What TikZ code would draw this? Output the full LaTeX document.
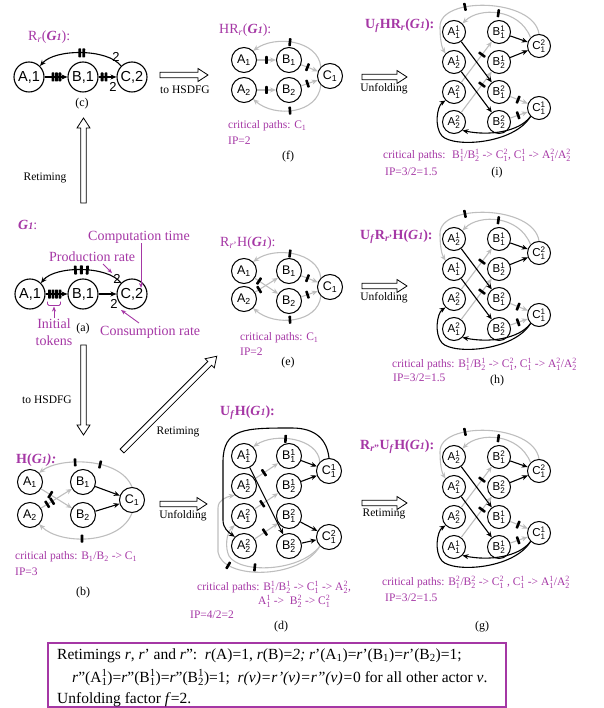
\documentclass[tikz,border=0pt]{standalone}
\usepackage{fontspec}
\setmainfont{Liberation Serif}
\setsansfont{Liberation Sans}
\usetikzlibrary{arrows.meta}

\definecolor{mag}{RGB}{165,55,165}
\definecolor{edgegray}{RGB}{190,190,190}

% letter with stacked subscript and superscript (sans, for graph nodes)
\newcommand\ssb[3]{#1$_{\mathsf{#2}}^{\mathsf{#3}}$}
% letter with stacked subscript and superscript (serif, for running text)
\newcommand\tsb[3]{#1$_{\mathrm{#2}}^{\mathrm{#3}}$}
% the graph name G1
\newcommand\gnm{\textbf{\textit{G{\fontsize{10}{10}\selectfont 1}}}}
% outlined block arrow: start point, angle, length
\newcommand\blockarrow[3]{%
  \begin{scope}[shift={#1},rotate=#2]
    \draw[line width=0.8pt,fill=white]
      (0,2.7) -- (#3-10,2.7) -- (#3-10,6.5) -- (#3,0) -- (#3-10,-6.5)
      -- (#3-10,-2.7) -- (0,-2.7) -- cycle;
  \end{scope}}

\tikzset{
  bignode/.style={circle,draw,line width=1.1pt,minimum size=30pt,inner sep=0pt,
    font=\sffamily\fontsize{14.5}{14.5}\selectfont},
  hnode/.style={circle,draw,line width=1pt,minimum size=25pt,inner sep=0pt,
    font=\sffamily\fontsize{12.5}{12.5}\selectfont},
  unode/.style={circle,draw,line width=1pt,minimum size=23pt,inner sep=0pt,
    font=\sffamily\fontsize{11.5}{11.5}\selectfont},
  blk/.style={draw=black,line width=1.1pt,-{Stealth[length=6pt,width=5pt]}},
  gry/.style={draw=edgegray,line width=1.1pt,-{Stealth[length=6pt,width=5pt]}},
  tok/.style={fill=black,draw=none,rectangle,rounded corners=0.6pt,
    minimum width=2.6pt,minimum height=8pt,inner sep=0pt,sloped},
  bigtok/.style={tok,minimum width=2.8pt,minimum height=9pt},
  ttl/.style={text=mag,anchor=west,inner sep=0pt,font=\fontsize{14}{16}\selectfont},
  crit/.style={text=mag,anchor=west,inner sep=0pt,font=\fontsize{11.5}{13}\selectfont},
  annot/.style={text=mag,inner sep=0pt,font=\fontsize{14}{17}\selectfont},
  annarrow/.style={draw=mag,line width=0.9pt,-{Stealth[length=5pt,width=4pt]}},
  capt/.style={inner sep=0pt,font=\fontsize{12}{14}\selectfont},
  steplabel/.style={inner sep=0pt,font=\fontsize{11.5}{13}\selectfont},
  rt/.style={inner sep=0pt,font=\sffamily\fontsize{13}{13}\selectfont},
  boxtext/.style={anchor=base west,inner sep=0pt,font=\fontsize{15.5}{18}\selectfont},
  % unfolded graph: four A copies, four B copies, two C copies
  pics/ufpanel/.style n args={8}{code={
    \node[unode] (a1) at (0,0) {#1};
    \node[unode] (a2) at (0,30) {#2};
    \node[unode] (a3) at (0,60) {#3};
    \node[unode] (a4) at (0,90) {#4};
    \node[unode] (b1) at (45,0) {#5};
    \node[unode] (b2) at (45,30) {#6};
    \node[unode] (b3) at (45,60) {#7};
    \node[unode] (b4) at (45,90) {#8};
    \node[unode] (ct) at (85,14) {\ssb{C}{1}{2}};
    \node[unode] (cb) at (85,76) {\ssb{C}{1}{1}};
    \draw[gry] (a3) -- node[tok,pos=0.68]{} (b1);
    \draw[gry] (a4) -- node[tok,pos=0.68]{} (b2);
    \draw[gry] (b3) -- node[tok,pos=0.45]{} (cb);
    \draw[gry] (b4) -- node[tok,pos=0.45]{} (cb);
    \draw[gry] (ct.north west) .. controls (65,-24) and (25,-25) .. (a1.north east) node[tok,pos=0.5]{};
    \draw[gry] (ct.north) .. controls (80,-34) and (-15,-36) .. (-14,-5) node[tok,pos=0.66]{}
      .. controls (-14,8) and (-12,16) .. (a2.north west);
    \draw[blk] (a1) -- (b3);
    \draw[blk] (a2) -- (b4);
    \draw[blk] (b1) -- (ct);
    \draw[blk] (b2) -- (ct);
    \draw[blk] (cb.south west) .. controls (60,112) and (0,116) .. (-12,104)
      .. controls (-20,95) and (-17,74) .. (a3.south west);
    \draw[blk] (cb.south west) .. controls (65,100) and (35,104) .. (a4.south east);
  }}
}

\begin{document}
\begin{tikzpicture}[x=1pt,y=-1pt]
\useasboundingbox (0,0) rectangle (603,708);

% ---------- (c) retimed SDF graph ----------
\node[ttl] (tc) at (28,37) {R\textsubscript{\textit{r}}(\gnm):};
\node[bignode] (cA) at (29,77) {A,1};
\node[bignode] (cB) at (83,77) {B,1};
\node[bignode] (cC) at (132,77) {C,2};
\draw[blk] (cA) -- node[bigtok,pos=0.37]{} node[bigtok,pos=0.52]{} node[bigtok,pos=0.67]{} (cB);
\draw[blk] (cB) -- node[bigtok,pos=0.2]{} node[bigtok,pos=0.42]{} (cC);
\draw[blk] (cC.north west) .. controls (108,48.5) and (55,48.5) .. (cA.north east)
  node[bigtok,pos=0.475]{} node[bigtok,pos=0.515]{};
\node[rt] (cr1) at (116,57) {2};
\node[rt] (cr2) at (113,87) {2};
\node[capt] (capc) at (82,104) {(c)};

% ---------- (a) original SDF graph ----------
\node[ttl] (ta) at (18,225) {\gnm:};
\node[bignode] (aA) at (30,294) {A,1};
\node[bignode] (aB) at (83,294) {B,1};
\node[bignode] (aC) at (132,294) {C,2};
\draw[blk] (aA) -- node[bigtok,pos=0.18]{} node[bigtok,pos=0.34]{} node[bigtok,pos=0.5]{} node[bigtok,pos=0.66]{} (aB);
\draw[blk] (aB) -- (aC);
\draw[blk] (aC.north west) .. controls (108,265.5) and (55,265.5) .. (aA.north east)
  node[bigtok,pos=0.44]{} node[bigtok,pos=0.5]{} node[bigtok,pos=0.56]{};
\node[rt] (ar1) at (117,279) {2};
\node[rt] (ar2) at (114,304) {2};
\node[annot,anchor=west] (comp) at (88,237) {Computation time};
\coordinate (ctime) at (141,288);
\draw[annarrow] (comp.south -| ctime) -- (ctime);
\node[annot,anchor=west] (prod) at (49,257) {Production rate};
\coordinate (pfrom) at (103,264);
\coordinate (pto) at (112,273);
\draw[annarrow] (pfrom) -- (pto);
\node[annot,anchor=west] (cons) at (100,332) {Consumption rate};
\coordinate (cfrom) at (139,323);
\coordinate (cto) at (121,310);
\draw[annarrow] (cfrom) -- (cto);
\draw[mag,line width=0.8pt,rounded corners=1.5pt] (47.5,301.5) -- (47.5,305.5) -- (60.5,305.5) -- (60.5,301.5);
\node[annot,align=center] (init) at (54,332) {Initial\\tokens};
\coordinate (itop) at (54,306.5);
\draw[annarrow] (init.north) -- (itop);
\node[capt] (capa) at (83,329) {(a)};

% ---------- (b) HSDF graph ----------
\node[ttl] (tb) at (16,460) {\textbf{H(\gnm\textit{):}}};
\node[hnode] (bA1) at (30,482) {A\textsubscript{1}};
\node[hnode] (bA2) at (30,515) {A\textsubscript{2}};
\node[hnode] (bB1) at (83,482) {B\textsubscript{1}};
\node[hnode] (bB2) at (83,515) {B\textsubscript{2}};
\node[hnode] (bC1) at (132,500) {C\textsubscript{1}};
\draw[gry] (bA1) -- node[tok,pos=0.3]{} (bB2);
\draw[gry] (bA2) -- node[tok,pos=0.2]{} node[tok,pos=0.36]{} (bB1);
\draw[gry] (bC1.north) .. controls (120,457) and (60,457) .. (bA1.north east)
  node[tok,pos=0.4]{} node[tok,pos=0.62]{};
\draw[gry] (bC1.south) .. controls (120,545) and (60,545) .. (bA2.south east)
  node[tok,pos=0.56]{};
\draw[blk] (bB1) -- (bC1);
\draw[blk] (bB2) -- (bC1);
\node[crit] (cpb) at (15,557) {critical paths: B\textsubscript{1}/B\textsubscript{2} -> C\textsubscript{1}};
\node[crit] (ipb) at (15,572) {IP=3};
\node[capt] (capb) at (83,593) {(b)};

% ---------- (f) HSDF graph of the retimed graph ----------
\node[ttl] (tf) at (219,30) {HR\textsubscript{\textit{r}}(\gnm):};
\node[hnode] (fA1) at (244,60) {A\textsubscript{1}};
\node[hnode] (fA2) at (244,90) {A\textsubscript{2}};
\node[hnode] (fB1) at (289,60) {B\textsubscript{1}};
\node[hnode] (fB2) at (289,90) {B\textsubscript{2}};
\node[hnode] (fC1) at (330,76) {C\textsubscript{1}};
\draw[gry] (fA1) -- node[tok]{} (fB1);
\draw[gry] (fA2) -- node[tok]{} (fB2);
\draw[gry] (fB1) -- node[tok,pos=0.38]{} (fC1);
\draw[gry] (fB2) -- node[tok,pos=0.38]{} (fC1);
\draw[gry] (fC1.north west) .. controls (318,40) and (275,35) .. (fA1.north east) node[tok,pos=0.55]{};
\draw[gry] (fC1.south west) .. controls (318,114) and (275,118) .. (fA2.south east) node[tok,pos=0.55]{};
\node[crit] (cpf) at (228,126) {critical paths: C\textsubscript{1}};
\node[crit] (ipf) at (228,141) {IP=2};
\node[capt] (capf) at (288,157) {(f)};

% ---------- (e) retimed HSDF graph ----------
\node[ttl] (te) at (220,243) {R\textsubscript{\textit{r}'}H(\gnm):};
\node[hnode] (eA1) at (244,271) {A\textsubscript{1}};
\node[hnode] (eA2) at (244,299) {A\textsubscript{2}};
\node[hnode] (eB1) at (289,271) {B\textsubscript{1}};
\node[hnode] (eB2) at (289,301) {B\textsubscript{2}};
\node[hnode] (eC1) at (330,287) {C\textsubscript{1}};
\draw[gry] (eA1) -- node[tok,pos=0.18]{} (eB2);
\draw[gry] (eA2) -- node[tok,pos=0.18]{} (eB1);
\draw[gry] (eB1) -- node[tok,pos=0.38]{} (eC1);
\draw[gry] (eB2) -- node[tok,pos=0.38]{} (eC1);
\draw[gry] (eC1.north west) .. controls (318,252) and (275,246) .. (eA1.north east) node[tok,pos=0.55]{};
\draw[gry] (eC1.south west) .. controls (318,323) and (275,327) .. (eA2.south east) node[tok,pos=0.55]{};
\node[crit] (cpe) at (240,338) {critical paths: C\textsubscript{1}};
\node[crit] (ipe) at (240,352) {IP=2};
\node[capt] (cape) at (288,363) {(e)};

% ---------- (d) unfolded HSDF graph ----------
\node[ttl] (td) at (220,413) {\textbf{U\textsubscript{\textit{f}}H(\gnm):}};
\node[hnode] (dA11) at (244,456) {\ssb{A}{1}{1}};
\node[hnode] (dA21) at (244,486) {\ssb{A}{2}{1}};
\node[hnode] (dA12) at (244,516) {\ssb{A}{1}{2}};
\node[hnode] (dA22) at (244,546) {\ssb{A}{2}{2}};
\node[hnode] (dB11) at (289,456) {\ssb{B}{1}{1}};
\node[hnode] (dB21) at (289,486) {\ssb{B}{2}{1}};
\node[hnode] (dB12) at (289,516) {\ssb{B}{1}{2}};
\node[hnode] (dB22) at (289,546) {\ssb{B}{2}{2}};
\node[hnode] (dC11) at (329,471) {\ssb{C}{1}{1}};
\node[hnode] (dC12) at (329,537) {\ssb{C}{1}{2}};
\draw[gry] (dA21) -- node[tok,pos=0.39]{} (dB11);
\draw[gry] (dA12) -- node[tok,pos=0.32]{} (dB21);
\draw[gry] (dA22) -- node[tok,pos=0.43]{} (dB12);
\draw[gry] (dC11.north west) .. controls (318,438) and (275,432) .. (dA11.north east) node[tok,pos=0.6]{};
\draw[gry] (dC12.south west) .. controls (300,580) and (222,580) .. (218,552) node[tok,pos=0.8]{}
  -- (218,508) .. controls (218,500) and (226,497) .. (dA21.south west);
\draw[gry] (dC12.south west) .. controls (300,572) and (240,574) .. (229,556) node[tok,pos=0.65]{}
  .. controls (225,548) and (226,533) .. (dA12.south west);
\draw[blk] (dB11) -- (dC11);
\draw[blk] (dB21) -- (dC11);
\draw[blk] (dB12) -- (dC12);
\draw[blk] (dB22) -- (dC12);
\draw[blk] (dA11) -- (dB22);
\draw[blk] (dC11.north) .. controls (327,440) and (316,428) .. (292,428)
  .. controls (245,428) and (223,428) .. (223,462) -- (223,520)
  .. controls (223,528) and (228,532) .. (dA22.north west);
\node[crit] (cpd1) at (197,587) {critical paths: \tsb{B}{1}{1}/\tsb{B}{2}{1} -> \tsb{C}{1}{1} -> \tsb{A}{2}{2},};
\node[crit] (cpd2) at (258,601) {\tsb{A}{1}{1} -> \ \tsb{B}{2}{2} -> \tsb{C}{1}{2}};
\node[crit] (ipd) at (190,615) {IP=4/2=2};
\node[capt] (capd) at (281,627) {(d)};

% ---------- (i) unfolded HSDF graph of the retimed graph ----------
\node[ttl] (ti) at (365,26) {\textbf{U\textsubscript{\textit{f}}HR\textsubscript{\textit{r}}(\gnm):}};
\pic (i) at (454,32) {ufpanel={\ssb{A}{1}{1}}{\ssb{A}{2}{1}}{\ssb{A}{1}{2}}{\ssb{A}{2}{2}}{\ssb{B}{1}{1}}{\ssb{B}{2}{1}}{\ssb{B}{1}{2}}{\ssb{B}{2}{2}}};
\node[crit] (cpi) at (383,155) {critical paths: \ \tsb{B}{1}{1}/\tsb{B}{2}{1} -> \tsb{C}{1}{2}, \tsb{C}{1}{1} -> \tsb{A}{1}{2}/\tsb{A}{2}{2}};
\node[crit] (ipi) at (385,172) {IP=3/2=1.5};
\node[capt] (capi) at (497,173) {(i)};

% ---------- (h) unfolded retimed HSDF graph ----------
\node[ttl] (th) at (360,237) {\textbf{U\textsubscript{\textit{f}}R\textsubscript{\textit{r}'}H(\gnm):}};
\pic (h) at (454,239) {ufpanel={\ssb{A}{2}{1}}{\ssb{A}{1}{1}}{\ssb{A}{2}{2}}{\ssb{A}{1}{2}}{\ssb{B}{1}{1}}{\ssb{B}{2}{1}}{\ssb{B}{1}{2}}{\ssb{B}{2}{2}}};
\node[crit] (cph) at (392,364) {critical paths: \tsb{B}{1}{1}/\tsb{B}{2}{1} -> \tsb{C}{1}{2}, \tsb{C}{1}{1} -> \tsb{A}{1}{2}/\tsb{A}{2}{2}};
\node[crit] (iph) at (393,378) {IP=3/2=1.5};
\node[capt] (caph) at (497,381) {(h)};

% ---------- (g) retimed unfolded HSDF graph ----------
\node[ttl] (tg) at (360,447) {\textbf{R\textsubscript{\textit{r}''}U\textsubscript{\textit{f}}H(\gnm):}};
\pic (g) at (454,457) {ufpanel={\ssb{A}{2}{1}}{\ssb{A}{1}{2}}{\ssb{A}{2}{2}}{\ssb{A}{1}{1}}{\ssb{B}{1}{2}}{\ssb{B}{2}{2}}{\ssb{B}{1}{1}}{\ssb{B}{2}{1}}};
\node[crit] (cpg) at (382,582) {critical paths: \tsb{B}{1}{2}/\tsb{B}{2}{2} -> \tsb{C}{1}{2} , \tsb{C}{1}{1} -> \tsb{A}{1}{1}/\tsb{A}{2}{2}};
\node[crit] (ipg) at (385,598) {IP=3/2=1.5};
\node[capt] (capg) at (482,627) {(g)};

% ---------- transformation arrows ----------
\blockarrow{(83.5,203)}{90}{85}
\node[steplabel] (s1) at (45,178) {Retiming};
\blockarrow{(83.5,345)}{-90}{90}
\node[steplabel] (s2) at (47,400) {to HSDFG};
\blockarrow{(122,451)}{45}{134}
\node[steplabel] (s3) at (178,432) {Retiming};
\blockarrow{(160,75)}{0}{48}
\node[steplabel] (s4) at (185,90) {to HSDFG};
\blockarrow{(362,77)}{0}{45}
\node[steplabel] (s5) at (384,89) {Unfolding};
\blockarrow{(160,504)}{0}{47}
\node[steplabel] (s6) at (183,516) {Unfolding};
\blockarrow{(362,286)}{0}{45}
\node[steplabel] (s7) at (384,298) {Unfolding};
\blockarrow{(362,503)}{0}{45}
\node[steplabel] (s8) at (384,514) {Retiming};

% ---------- legend box ----------
\draw[mag,line width=1.2pt] (48,643) rectangle (506,707);
\node[boxtext] (l1) at (57,659) {Retimings \textit{r}, \textit{r}' and \textit{r}'':\ \ \textit{r}(A)=1, \textit{r}(B)=\textit{2;} \textit{r}'(A\textsubscript{1})=\textit{r}'(B\textsubscript{1})=\textit{r}'(B\textsubscript{2})=1;};
\node[boxtext] (l2) at (72,682) {\textit{r}''(\tsb{A}{1}{1})=\textit{r}''(\tsb{B}{1}{1})=\textit{r}''(\tsb{B}{2}{1})=1;\ \ \textit{r(v)=r'(v)=r''(v)=}0 for all other actor \textit{v}.};
\node[boxtext] (l3) at (57,703) {Unfolding factor \textit{f}=2.};
\end{tikzpicture}
\end{document}
